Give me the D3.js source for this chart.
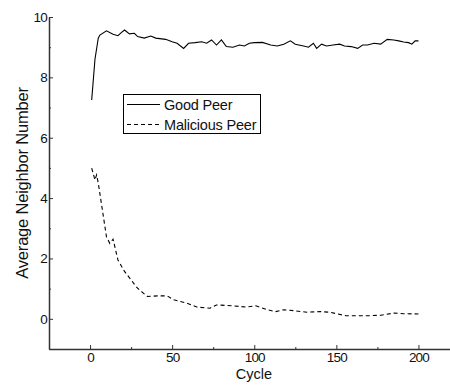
<!DOCTYPE html>
<html>
<head>
<meta charset="utf-8">
<script src="https://cdn.jsdelivr.net/npm/d3@7"></script>
<style>
  body { margin: 0; background: #fff; }
  svg { display: block; font-family: "Liberation Sans", Arial, sans-serif; }
</style>
</head>
<body>
<svg id="chart" width="450" height="385"></svg>
<script>
// values
var goodCycle = [1, 3, 5, 6, 10, 14, 17, 19, 21, 24, 27, 29, 33, 37, 40, 46, 50, 53, 57, 60, 64, 68, 71, 74, 77, 80, 83, 87, 91, 94, 97, 100, 105, 110, 114, 118, 122, 125, 130, 133, 136, 138, 141, 144, 148, 152, 155, 159, 163, 166, 169, 173, 177, 181, 185, 188, 191, 194, 196, 198, 200]
var goodValue = [7.25, 8.6, 9.3, 9.4, 9.54, 9.43, 9.38, 9.48, 9.57, 9.44, 9.46, 9.35, 9.3, 9.37, 9.3, 9.26, 9.18, 9.13, 8.96, 9.13, 9.15, 9.18, 9.13, 9.24, 9.07, 9.24, 9.02, 9.0, 9.07, 9.04, 9.13, 9.15, 9.16, 9.07, 9.04, 9.1, 9.21, 9.1, 9.04, 9.0, 9.13, 8.96, 9.1, 9.04, 9.07, 9.1, 9.04, 9.02, 8.96, 9.07, 9.07, 9.13, 9.1, 9.26, 9.24, 9.21, 9.17, 9.15, 9.1, 9.21, 9.21]

var malCycle = [1, 3, 4, 5, 10, 12, 14, 17, 21, 25, 28, 30, 35, 41, 47, 51, 59, 65, 73, 77, 87, 95, 101, 108, 113, 118, 124, 132, 140, 146, 150, 156, 169, 177, 185, 191, 200]
var malValue = [4.99, 4.6, 4.77, 4.5, 2.72, 2.5, 2.64, 1.95, 1.57, 1.29, 1.07, 0.96, 0.74, 0.76, 0.76, 0.63, 0.52, 0.39, 0.35, 0.46, 0.43, 0.39, 0.43, 0.3, 0.24, 0.3, 0.27, 0.22, 0.24, 0.22, 0.17, 0.1, 0.1, 0.12, 0.19, 0.17, 0.16]

var xTicks = [0, 50, 100, 150, 200]
var xMinor = [25, 75, 125, 175]
var yTicks = [0, 2, 4, 6, 8, 10]
var yMinor = [-1, 1, 3, 5, 7, 9]
var seriesNames = ["Good Peer", "Malicious Peer"]

var svg = d3.select("#chart")

var x = d3.scaleLinear().domain([-25, 225]).range([49, 459.5])
var y = d3.scaleLinear().domain([-1, 10]).range([349, 17])

// axes
svg.append("g").attr("transform", "translate(0," + y(-1) + ")")
  .call(d3.axisBottom(x).tickValues(xTicks).tickSize(-4).tickSizeOuter(0).tickPadding(3))
svg.append("g").attr("transform", "translate(0," + y(-1) + ")")
  .call(d3.axisBottom(x).tickValues(xMinor).tickSize(-2).tickSizeOuter(0).tickFormat(""))
  .select(".domain").remove()

svg.append("g").attr("transform", "translate(" + x(-25) + ",0)")
  .call(d3.axisLeft(y).tickValues(yTicks).tickSize(-4).tickSizeOuter(0).tickPadding(2))
svg.append("g").attr("transform", "translate(" + x(-25) + ",0)")
  .call(d3.axisLeft(y).tickValues(yMinor).tickSize(-2).tickSizeOuter(0).tickFormat(""))
  .select(".domain").remove()

svg.selectAll(".domain").attr("stroke", "#333").attr("stroke-width", 1.5)
svg.selectAll(".tick line").attr("stroke", "#333").attr("stroke-width", 1)
svg.selectAll(".tick text")
  .attr("font-size", 13.5)
  .attr("font-family", "Liberation Sans, Arial, sans-serif")
  .attr("letter-spacing", "-0.8")
  .attr("fill", "#111")

// axis titles
svg.append("text")
  .attr("x", 254).attr("y", 379)
  .attr("text-anchor", "middle")
  .attr("font-size", 14.5)
  .attr("fill", "#111")
  .text("Cycle")

svg.append("text")
  .attr("transform", "translate(28," + ((y(10) + y(-1)) / 2) + ") rotate(-90)")
  .attr("text-anchor", "middle")
  .attr("font-size", 16.5)
  .attr("letter-spacing", "-0.2")
  .attr("fill", "#111")
  .text("Average Neighbor Number")

// lines
var line = d3.line()
  .x(function(d) { return x(d[0]) })
  .y(function(d) { return y(d[1]) })

var good = goodCycle.map(function(c, i) { return [c, goodValue[i]] })
var mal = malCycle.map(function(c, i) { return [c, malValue[i]] })

svg.append("path")
  .datum(good)
  .attr("fill", "none")
  .attr("stroke", "#000")
  .attr("stroke-width", 1.1)
  .attr("d", line)

svg.append("path")
  .datum(mal)
  .attr("fill", "none")
  .attr("stroke", "#000")
  .attr("stroke-width", 1.1)
  .attr("stroke-dasharray", "4,3")
  .attr("d", line)

// legend
var lg = svg.append("g")
lg.append("rect")
  .attr("x", 123.5).attr("y", 94.5)
  .attr("width", 137).attr("height", 39)
  .attr("fill", "#fff").attr("stroke", "#000").attr("stroke-width", 1)

seriesNames.forEach(function(name, i) {
  var ly = 104.5 + i * 20
  lg.append("line")
    .attr("x1", 127).attr("x2", 160)
    .attr("y1", ly).attr("y2", ly)
    .attr("stroke", "#000").attr("stroke-width", 1)
    .attr("stroke-dasharray", i == 1 ? "4,3" : null)
  lg.append("text")
    .attr("x", 164).attr("y", ly + 5)
    .attr("font-size", 14.5)
    .attr("letter-spacing", "-0.2")
    .attr("fill", "#111")
    .text(name)
})
</script>
</body>
</html>
